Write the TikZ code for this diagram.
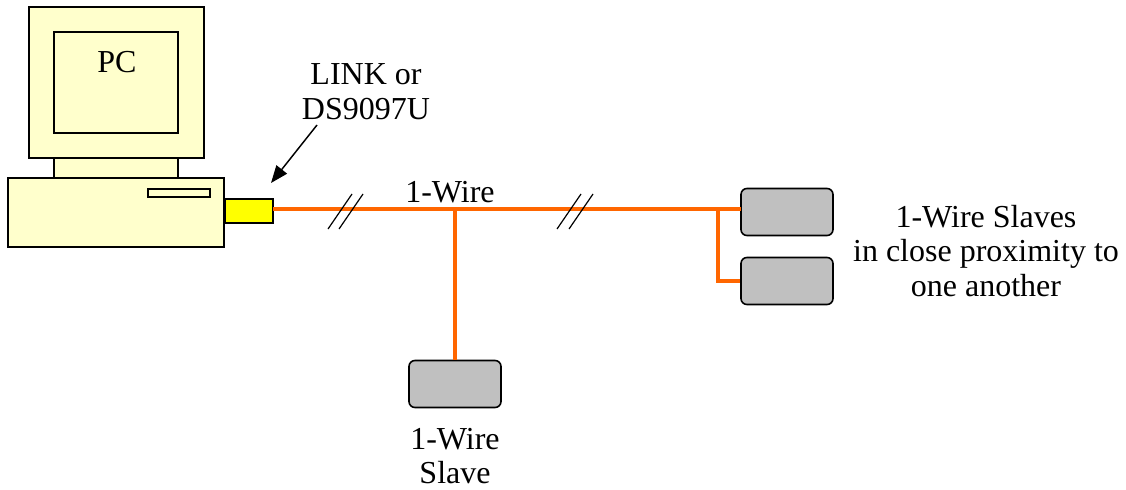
\documentclass[tikz,border=0pt]{standalone}
\usepackage{fontspec}
\setmainfont{Liberation Serif}
\usetikzlibrary{arrows.meta}
\definecolor{pcyellow}{RGB}{255,255,204}
\definecolor{linkyellow}{RGB}{255,255,0}
\definecolor{wireorange}{RGB}{255,102,0}
\definecolor{slavegray}{RGB}{192,192,192}
\tikzset{
  pcpart/.style = {rectangle, draw=black, fill=pcyellow, line width=1.5pt,
    inner sep=0pt, minimum width=#1},
  slavebox/.style = {rectangle, rounded corners=4.5pt, draw=black, fill=slavegray,
    line width=1.2pt, inner sep=0pt, minimum width=69pt, minimum height=35.25pt},
  wire/.style = {wireorange, line width=2.6pt},
  hash/.style = {black, line width=0.9pt},
  caption/.style = {align=center, inner sep=0pt,
    font=\fontsize{24}{26}\selectfont}
}

\begin{document}
\begin{tikzpicture}[x=0.75pt,y=-0.75pt]
\useasboundingbox (0,0) rectangle (1126,489);
% computer
\node [pcpart=93pt, minimum height=16pt] (neck) at (116,168) {};
\node [pcpart=131.25pt, minimum height=113.25pt] (monitor) at (116.5,82.5) {};
\node [pcpart=93pt, minimum height=75.75pt] (screen) at (116,82.5) {};
\node [pcpart=162pt, minimum height=52pt] (base) at (116,212.5) {};
\node [pcpart=46.5pt, minimum height=6pt, line width=1.2pt] (slot) at (179,193) {};
\node [rectangle, draw=black, fill=linkyellow, line width=1.2pt, inner sep=0pt,
  minimum width=36pt, minimum height=18pt] (link) at (249,211) {};
% slaves
\node [slavebox] (slavea) at (787,212) {};
\node [slavebox] (slaveb) at (787,281) {};
\node [slavebox] (slavec) at (455,384) {};
% bus
\coordinate (busstart) at (273,209);
\coordinate (busend) at (741,209);
\coordinate (tapc) at (455,209);
\coordinate (tapb) at (718,209);
\coordinate (cornerb) at (718,281);
\draw [wire] (busstart) -- (busend);
\draw [wire] (tapc) -- (slavec.north);
\draw [wire] (tapb) -- (cornerb) -- (slaveb.west);
% line breaks
\foreach \x in {328,339,557,569}
  \draw [hash] (\x,229) -- (\x+24,194);
% labels
\node [caption] (pclabel) at (117,62) {PC};
\node [caption] (linklabel) at (366,92) {LINK or\\DS9097U};
\node [caption] (buslabel) at (450,192) {1-Wire};
\node [caption] (groupnote) at (986,251) {1-Wire Slaves\\in close proximity to\\one another};
\node [caption] (slavenote) at (455,456) {1-Wire\\Slave};
\coordinate (linktip) at (271,183);
\coordinate (linktail) at (317,125);
\draw [-{Triangle[length=13pt,width=10pt]}, line width=1.1pt] (linktail) -- (linktip);
\end{tikzpicture}
\end{document}
